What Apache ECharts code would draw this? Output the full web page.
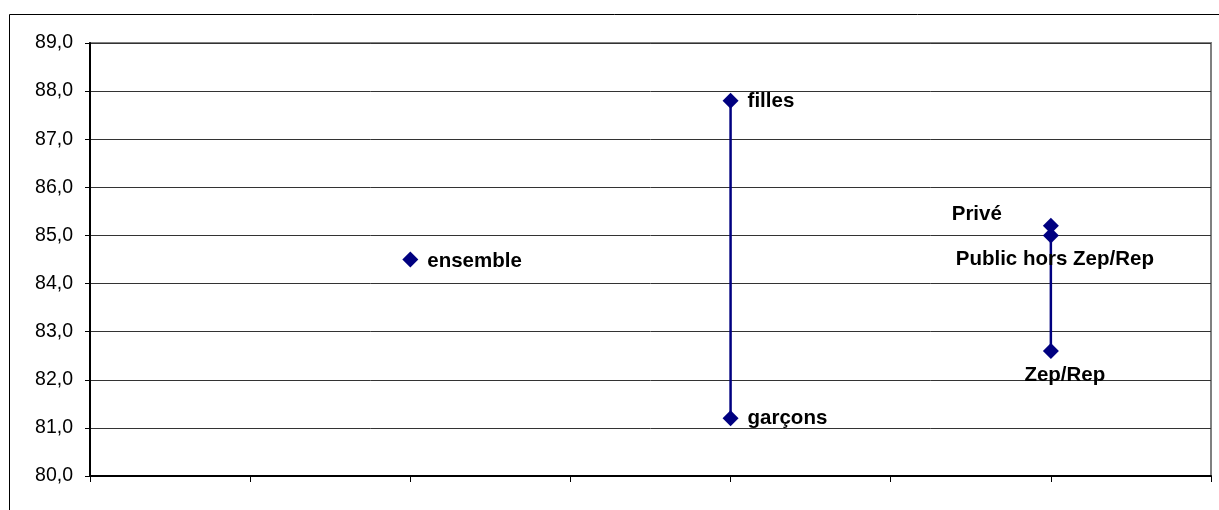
<!DOCTYPE html>
<html>
<head>
<meta charset="utf-8">
<script src="https://cdn.jsdelivr.net/npm/echarts@6/dist/echarts.min.js"></script>
<style>
html,body{margin:0;padding:0;background:#fff;}
#chart{width:1219px;height:510px;}
</style>
</head>
<body>
<div id="chart"></div>
<script>
// ---- data ----
const groupX = [2, 4, 6];
const labelsEnsemble = ['ensemble'];
const valuesEnsemble = [84.5];
const labelsSexe = ['filles', 'garçons'];
const valuesSexe = [87.8, 81.2];
const labelsSecteur = ['Privé', 'Public hors Zep/Rep', 'Zep/Rep'];
const valuesSecteur = [85.2, 85.0, 82.6];
const yMin = 80, yMax = 89, yStep = 1;
const xMin = 0, xMax = 7, xStep = 1;

// ---- label placement (style) ----
const labelPlacement = {
  'ensemble': {position: 'right', distance: 9, offset: [0, 2]},
  'filles': {position: 'right', distance: 9, offset: [0, 1]},
  'garçons': {position: 'right', distance: 9, offset: [0, 0]},
  'Privé': {position: 'left', distance: 41, offset: [0, -11]},
  'Public hors Zep/Rep': {position: 'bottom', distance: 5, offset: [4, 0]},
  'Zep/Rep': {position: 'bottom', distance: 6, offset: [14, 0]}
};

const navy = '#000080';
const font = '"Liberation Sans", Arial, sans-serif';

function build(x, labels, values) {
  return values.map((v, i) => {
    const p = labelPlacement[labels[i]];
    return {
      value: [x, v],
      name: labels[i],
      label: {show: true, formatter: labels[i], position: p.position, distance: p.distance, offset: p.offset}
    };
  });
}

function series(name, data) {
  return {
    name: name,
    type: 'line',
    data: data,
    symbol: 'diamond',
    symbolSize: 16,
    lineStyle: {color: navy, width: 2.5},
    itemStyle: {color: navy},
    label: {color: '#000', fontFamily: font, fontWeight: 'bold', fontSize: 20.5},
    emphasis: {disabled: true},
    animation: false
  };
}

const chart = echarts.init(document.getElementById('chart'), null, {renderer: 'canvas'});
chart.setOption({
  backgroundColor: '#fff',
  animation: false,
  graphic: [{
    type: 'rect',
    shape: {x: 9.5, y: 14.5, width: 1400, height: 700},
    style: {fill: 'none', stroke: '#000', lineWidth: 1},
    silent: true,
    z: -10
  }],
  grid: {
    left: 90, right: 8, top: 43, bottom: 34,
    show: true, borderColor: '#808080', borderWidth: 2, backgroundColor: 'transparent'
  },
  xAxis: {
    type: 'value', min: xMin, max: xMax, interval: xStep,
    axisLine: {show: true, onZero: false, lineStyle: {color: '#000', width: 2}},
    axisTick: {show: true, length: 6, lineStyle: {color: '#000', width: 1}},
    axisLabel: {show: false},
    splitLine: {show: false}
  },
  yAxis: {
    type: 'value', min: yMin, max: yMax, interval: yStep,
    axisLine: {show: true, lineStyle: {color: '#000', width: 2}},
    axisTick: {show: true, length: 5, lineStyle: {color: '#000', width: 1}},
    axisLabel: {
      color: '#000', fontFamily: font, fontSize: 19.5, margin: 17,
      formatter: v => v.toFixed(1).replace('.', ',')
    },
    splitLine: {show: true, lineStyle: {color: '#333', width: 1}}
  },
  series: [
    series('ensemble', build(groupX[0], labelsEnsemble, valuesEnsemble)),
    series('sexe', build(groupX[1], labelsSexe, valuesSexe)),
    series('secteur', build(groupX[2], labelsSecteur, valuesSecteur))
  ]
});
</script>
</body>
</html>
